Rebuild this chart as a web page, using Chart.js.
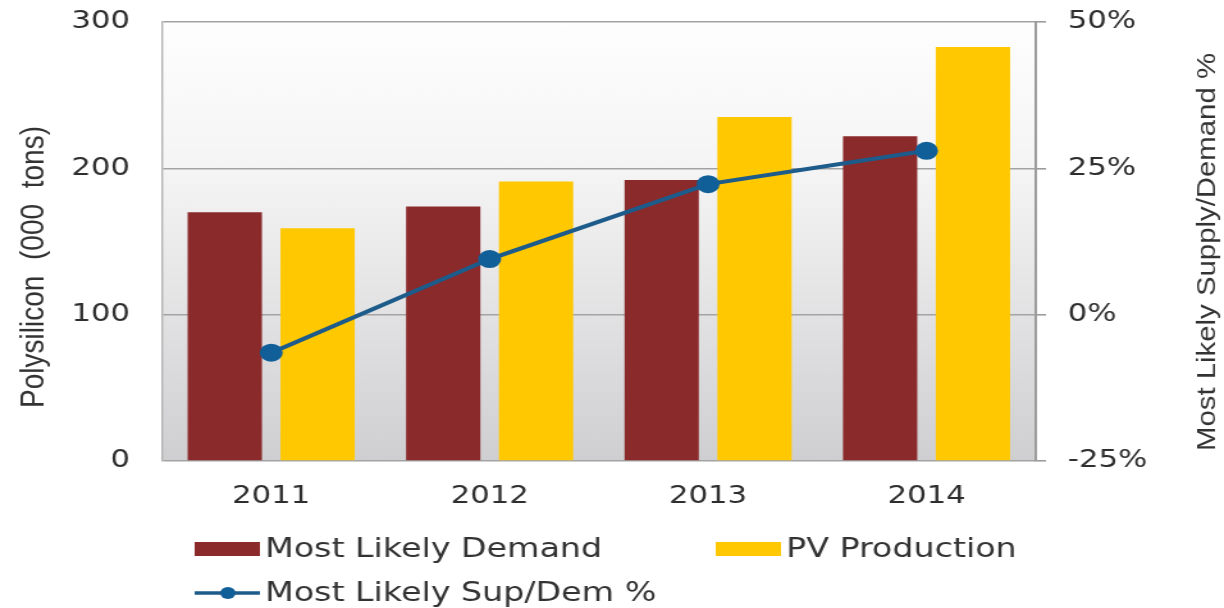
<!DOCTYPE html>
<html>
<head>
<meta charset="utf-8">
<script src="https://cdn.jsdelivr.net/npm/chart.js@4/dist/chart.umd.min.js"></script>
<style>
  html, body { margin: 0; padding: 0; background: #ffffff; overflow: hidden; }
  /* the chart is laid out narrow and widened horizontally */
  #wrap { width: 956px; height: 608px; transform: scaleX(1.2803); transform-origin: 0 0; }
  canvas { display: block; }
</style>
</head>
<body>
<div id="wrap"><canvas id="chart" width="956" height="608"></canvas></div>
<script>
// Polysilicon demand vs PV production, with supply/demand balance
const categories = ['2011', '2012', '2013', '2014'];
const demand = [170, 174, 192, 222];          // 000 tons
const pvProduction = [159, 191, 235, 283];    // 000 tons
const supDemPct = [-6.5, 9.5, 22.3, 28];      // %
const leftTicks = [0, 100, 200, 300];
const rightTicks = [-25, 0, 25, 50];

const TICK_FONT = { family: "'DejaVu Sans', Verdana, sans-serif", size: 24 };
const TEXT = '#2e2e2e';

// gradient plot background
const plotBackground = {
  id: 'plotBackground',
  beforeDraw(chart) {
    const { ctx, chartArea: a } = chart;
    const g = ctx.createLinearGradient(0, a.top, 0, a.bottom);
    g.addColorStop(0, '#fefefe');
    g.addColorStop(0.35, '#f4f4f4');
    g.addColorStop(1, '#cfcfd2');
    ctx.save();
    ctx.fillStyle = g;
    ctx.fillRect(a.left, a.top, a.right - a.left, a.bottom - a.top);
    ctx.restore();
  }
};

// rotated axis titles, stretched along their length
function drawRotatedTitle(ctx, text, cx, cy, size, length, color) {
  ctx.save();
  ctx.font = `${size}px 'Liberation Sans', Arial, sans-serif`;
  const w = ctx.measureText(text).width;
  ctx.translate(cx, cy);
  ctx.rotate(-Math.PI / 2);
  ctx.scale(length / w, 1);
  ctx.fillStyle = color;
  ctx.textAlign = 'center';
  ctx.textBaseline = 'middle';
  ctx.fillText(text, 0, 0);
  ctx.restore();
}

const axisTitles = {
  id: 'axisTitles',
  afterDraw(chart) {
    const ctx = chart.ctx;
    drawRotatedTitle(ctx, 'Polysilicon  (000  tons)', 27, 267, 25, 282, '#333333');
    drawRotatedTitle(ctx, 'Most Likely Supply/Demand %', 943, 252, 20, 398, '#333333');
  }
};

// legend laid out in two rows under the axis
const legendRows = {
  id: 'legendRows',
  afterDraw(chart) {
    const ctx = chart.ctx;
    const ds = chart.data.datasets;
    ctx.save();
    ctx.font = "26px 'DejaVu Sans', Verdana, sans-serif";
    ctx.textBaseline = 'middle';
    ctx.textAlign = 'left';
    const items = [
      { d: ds[1], x: 152, y: 549, type: 'box' },
      { d: ds[2], x: 559, y: 549, type: 'box' },
      { d: ds[0], x: 152, y: 593, type: 'line' }
    ];
    items.forEach(it => {
      if (it.type === 'box') {
        ctx.fillStyle = it.d.backgroundColor;
        ctx.fillRect(it.x, it.y - 7, 51, 14);
      } else {
        ctx.strokeStyle = it.d.borderColor;
        ctx.lineWidth = 3.5;
        ctx.beginPath();
        ctx.moveTo(it.x, it.y);
        ctx.lineTo(it.x + 51, it.y);
        ctx.stroke();
        ctx.fillStyle = it.d.pointBackgroundColor;
        ctx.beginPath();
        ctx.arc(it.x + 26, it.y, 6, 0, Math.PI * 2);
        ctx.fill();
      }
      ctx.fillStyle = '#333333';
      ctx.fillText(it.d.label, it.x + 55, it.y + 1);
    });
    ctx.restore();
  }
};

function fixVertical(width) {
  return function (s) {
    s.width = width;
    s.paddingTop = 0;
    s.paddingBottom = 0;
  };
}

new Chart(document.getElementById('chart'), {
  data: {
    labels: categories,
    datasets: [
      {
        type: 'line',
        label: 'Most Likely Sup/Dem %',
        data: supDemPct,
        yAxisID: 'yPct',
        borderColor: '#1d5b8b',
        borderWidth: 4,
        pointBackgroundColor: '#115f98',
        pointBorderColor: '#115f98',
        pointRadius: 7,
        tension: 0,
        order: 0
      },
      {
        type: 'bar',
        label: 'Most Likely Demand',
        data: demand,
        yAxisID: 'y',
        backgroundColor: '#8b2a2b',
        categoryPercentage: 0.85,
        barPercentage: 0.8,
        order: 1
      },
      {
        type: 'bar',
        label: 'PV Production',
        data: pvProduction,
        yAxisID: 'y',
        backgroundColor: '#ffc800',
        categoryPercentage: 0.85,
        barPercentage: 0.8,
        order: 1
      }
    ]
  },
  options: {
    responsive: false,
    devicePixelRatio: 1,
    animation: false,
    layout: { padding: { top: 22, right: 0, bottom: 0, left: 0 } },
    plugins: { legend: { display: false }, tooltip: { enabled: false } },
    scales: {
      x: {
        grid: { display: false },
        border: { display: false },
        ticks: { font: TICK_FONT, color: TEXT, padding: 13 },
        afterFit(s) { s.height = 147; }
      },
      y: {
        position: 'left',
        min: 0, max: 300,
        afterBuildTicks(s) { s.ticks = leftTicks.map(v => ({ value: v })); },
        grid: { color: '#a3a3a3', lineWidth: 1.6, drawTicks: false },
        border: { display: true, color: '#b4b4b4', width: 1.4 },
        ticks: { font: TICK_FONT, color: TEXT, padding: 25 },
        afterFit: fixVertical(126.5)
      },
      yPct: {
        position: 'right',
        min: -25, max: 50,
        afterBuildTicks(s) { s.ticks = rightTicks.map(v => ({ value: v })); },
        grid: { drawOnChartArea: false, drawTicks: true, tickLength: 8, color: '#9c9c9c', lineWidth: 1.6 },
        border: { display: true, color: '#9c9c9c', width: 2 },
        ticks: { font: TICK_FONT, color: TEXT, padding: 17, callback: v => v + '%' },
        afterFit: fixVertical(147)
      }
    }
  },
  plugins: [plotBackground, axisTitles, legendRows]
});
</script>
</body>
</html>
